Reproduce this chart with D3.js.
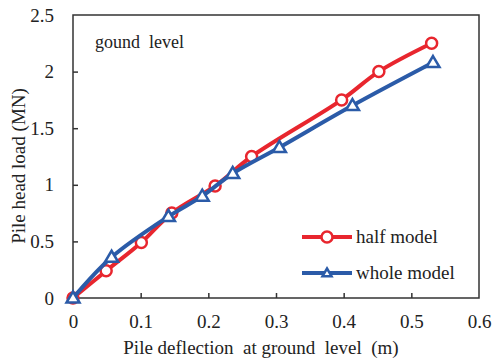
<!DOCTYPE html>
<html>
<head>
<meta charset="utf-8">
<script src="https://cdn.jsdelivr.net/npm/d3@7/dist/d3.min.js"></script>
<style>
  html, body { margin: 0; padding: 0; background: #fff; }
  svg { display: block; }
  text { font-family: "Liberation Serif", "Times New Roman", serif; fill: #222; white-space: pre; }
</style>
</head>
<body>
<svg id="chart" width="497" height="363"></svg>
<script>
// Pile head load vs. deflection at ground level
const halfX = [0, 0.049, 0.101, 0.146, 0.21, 0.264, 0.397, 0.452, 0.53];
const halfY = [0, 0.24, 0.49, 0.75, 0.99, 1.25, 1.75, 2.0, 2.25];
const wholeX = [0, 0.057, 0.141, 0.191, 0.236, 0.305, 0.413, 0.532];
const wholeY = [0, 0.36, 0.72, 0.9, 1.1, 1.33, 1.70, 2.08];
const xTicks = [0, 0.1, 0.2, 0.3, 0.4, 0.5, 0.6];
const yTicks = [0, 0.5, 1, 1.5, 2, 2.5];
const seriesNames = ["half model", "whole model"];

const red = "#e8262e", blue = "#2b5ba8";
const margin = { left: 73, top: 15, right: 18, bottom: 65 };
const W = 497, H = 363;
const FS = "19px";
const svg = d3.select("#chart");

const x = d3.scaleLinear().domain([0, 0.6]).range([margin.left, W - margin.right]);
const y = d3.scaleLinear().domain([0, 2.5]).range([H - margin.bottom, margin.top]);

// frame
svg.append("rect")
  .attr("x", x(0)).attr("y", y(2.5))
  .attr("width", x(0.6) - x(0)).attr("height", y(0) - y(2.5))
  .attr("fill", "none").attr("stroke", "#333").attr("stroke-width", 1.5);

// axes with inward ticks
const xAxis = svg.append("g").attr("transform", `translate(0,${y(0)})`)
  .call(d3.axisBottom(x).tickValues(xTicks).tickSizeInner(-5).tickSizeOuter(0)
    .tickFormat(d => d3.format("")(d)).tickPadding(17));
const yAxis = svg.append("g").attr("transform", `translate(${x(0)},0)`)
  .call(d3.axisLeft(y).tickValues(yTicks).tickSizeInner(-5).tickSizeOuter(0)
    .tickFormat(d => d3.format("")(d)).tickPadding(19));
[xAxis, yAxis].forEach(g => {
  g.select(".domain").remove();
  g.selectAll(".tick line").attr("stroke", "#333").attr("stroke-width", 1.5);
  g.selectAll(".tick text").style("font-size", FS).style("font-family", "Liberation Serif, serif").attr("fill", "#222");
});
xAxis.selectAll(".tick").filter(d => d === 0 || d === 0.6).select("line").remove();
yAxis.selectAll(".tick").filter(d => d === 0 || d === 2.5).select("line").remove();

// axis titles
svg.append("text").attr("x", 261).attr("y", 354)
  .attr("text-anchor", "middle").style("font-size", FS)
  .text("Pile deflection  at ground  level  (m)");
svg.append("text").attr("transform", `translate(25,166) rotate(-90)`)
  .attr("text-anchor", "middle").style("font-size", FS)
  .text("Pile head load (MN)");

svg.append("text").attr("x", 95).attr("y", 48).style("font-size", "18px").text("gound  level");

const line = d3.line().x(d => x(d[0])).y(d => y(d[1])).curve(d3.curveCatmullRom.alpha(0.5));
const half = halfX.map((v, i) => [v, halfY[i]]);
const whole = wholeX.map((v, i) => [v, wholeY[i]]);

function drawSeries(data, color, marker) {
  svg.append("path").datum(data).attr("d", line)
    .attr("fill", "none").attr("stroke", color).attr("stroke-width", 4)
    .attr("stroke-linejoin", "round");
  const g = svg.append("g");
  data.forEach(d => marker(g, x(d[0]), y(d[1]), color));
}
const circle = (g, cx, cy, c) => g.append("circle").attr("cx", cx).attr("cy", cy).attr("r", 5.5)
  .attr("fill", "#fff").attr("stroke", c).attr("stroke-width", 2.5);
const tri = (g, cx, cy, c, s = 6.5) => g.append("path")
  .attr("d", `M${cx},${cy - s}L${cx + s},${cy + s * 0.7}L${cx - s},${cy + s * 0.7}Z`)
  .attr("fill", "#fff").attr("stroke", c).attr("stroke-width", 2.5).attr("stroke-linejoin", "miter");

drawSeries(half, red, circle);
drawSeries(whole, blue, tri);

// legend
const legend = [
  { name: seriesNames[0], color: red, mk: circle, yy: 237 },
  { name: seriesNames[1], color: blue, mk: (g, a, b, c) => tri(g, a, b, c, 4.5), yy: 273 }
];
legend.forEach(l => {
  const g = svg.append("g");
  g.append("line").attr("x1", 302).attr("x2", 352).attr("y1", l.yy).attr("y2", l.yy)
    .attr("stroke", l.color).attr("stroke-width", 4);
  l.mk(g, 327, l.yy, l.color);
  g.append("text").attr("x", 356).attr("y", l.yy + 6).style("font-size", FS).text(l.name);
});
</script>
</body>
</html>
